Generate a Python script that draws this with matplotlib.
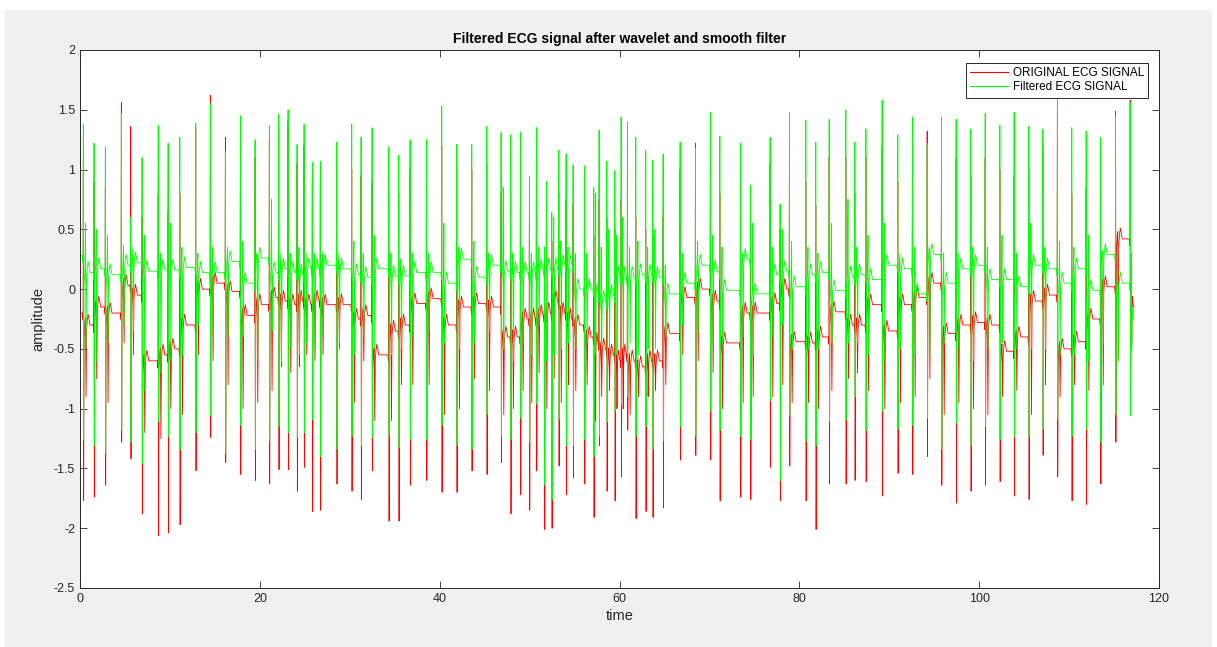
import matplotlib
matplotlib.use("Agg")
import matplotlib.pyplot as plt
from matplotlib.patches import Rectangle

# ---- data (one entry per heart beat) ----
beat_t = [0.37, 1.56, 2.82, 4.60, 5.64, 6.90, 8.70, 9.80, 11.10, 12.87, 14.50,
          16.17, 17.84, 19.47, 21.06, 22.10, 23.14, 24.14, 24.92, 25.84, 26.73, 28.55,
          30.22, 31.26, 32.48, 34.34, 35.45, 36.71, 38.53, 40.23, 41.90, 43.57,
          45.24, 46.83, 47.90, 48.98, 49.98, 50.76, 51.65, 52.47, 53.25, 54.06, 54.84, 56.10, 57.14, 57.73, 58.59, 59.48,
          60.18, 60.88, 61.81, 62.92, 63.70, 64.85, 66.74, 68.45, 70.11, 71.16, 73.45, 74.57,
          76.75, 77.86, 78.90, 80.72, 81.83, 83.32, 85.17, 86.17, 87.40, 89.21,
          90.95, 92.58, 94.22, 95.81, 97.44, 99.07, 100.67, 102.30, 103.89,
          105.52, 107.08, 108.70, 110.30, 111.90, 113.50, 115.17, 116.80]

grn_peak = [1.38, 1.22, 1.19, 1.47, 0.60, 1.10, 1.37, 1.22, 1.27, 1.39, 1.55,
            1.15, 1.45, 1.25, 1.37, 1.46, 1.50, 1.21, 1.38, 1.06, 1.07, 1.23,
            1.38, 1.27, 1.35, 1.19, 1.12, 1.25, 1.25, 1.53, 1.21, 1.21,
            1.36, 1.31, 1.29, 1.31, 0.94, 1.35, 0.35, 0.64, 1.16, 1.13, 1.04, 1.03, 0.85, 1.33, 1.07, 0.99,
            1.44, 1.40, 1.27, 1.16, 1.08, 1.13, 1.23, 1.18, 1.48, 1.28, 1.22, 0.87,
            1.27, 0.71, 1.48, 1.41, 1.23, 1.42, 1.50, 1.23, 1.34, 1.58,
            1.29, 1.44, 1.22, 1.44, 1.42, 1.34, 1.47, 1.37, 1.48,
            1.36, 1.34, 1.60, 1.35, 1.32, 1.27, 1.45, 1.56]

grn_trough = [-1.26, -1.31, -1.37, -1.18, -1.28, -1.46, -1.11, -1.23, -1.34, -1.20, -1.06,
              -1.37, -1.14, -1.34, -1.27, -1.15, -1.20, -1.24, -1.20, -1.09, -1.40, -1.34,
              -1.23, -1.31, -1.24, -1.23, -1.33, -1.26, -1.26, -1.14, -1.31, -1.34,
              -1.05, -1.23, -1.26, -1.08, -1.28, -0.96, -1.64, -1.76, -1.09, -1.31, -1.31, -1.26, -1.40, -1.23, -1.11, -1.02,
              -0.97, -0.90, -1.23, -1.15, -1.34, -1.27, -1.15, -1.23, -1.02, -1.18, -1.23, -1.26,
              -0.93, -1.60, -1.06, -1.27, -1.31, -1.11, -1.09, -0.90, -1.18, -1.02,
              -1.17, -1.14, -1.08, -1.34, -1.12, -1.31, -1.15, -1.26, -1.23,
              -1.23, -1.17, -1.09, -1.23, -1.17, -1.28, -1.05, -1.06]

grn_level = [0.14, 0.17, 0.12, 0.20, 0.22, 0.15, 0.16, 0.16, 0.18, 0.14, 0.14,
             0.23, 0.05, 0.26, 0.14, 0.17, 0.14, 0.12, 0.17, 0.17, 0.20, 0.17,
             0.12, 0.10, 0.17, 0.11, 0.11, 0.14, 0.14, 0.05, 0.25, 0.10,
             0.20, 0.15, 0.14, 0.14, 0.14, 0.16, 0.17, 0.17, 0.20, 0.20, 0.00, 0.00, -0.05, -0.10, -0.05, 0.10,
             0.10, 0.10, 0.12, 0.12, 0.10, -0.04, 0.05, 0.20, 0.15, -0.01, 0.25, -0.04,
             0.12, 0.15, 0.02, 0.12, 0.14, -0.01, 0.10, 0.12, 0.08, 0.20,
             0.17, -0.04, 0.29, 0.05, 0.17, 0.20, 0.08, 0.08, 0.02,
             0.20, 0.17, 0.05, 0.17, -0.01, 0.29, 0.05, -0.25]

grn_dip = [-0.50, -0.60, -0.45, -0.30, -0.35, -0.85, -0.70, -0.60, -0.55, -0.30, -0.35,
           -0.40, -0.40, -0.60, -0.35, -0.60, -0.50, -0.55, -0.45, -0.50, -0.40, -0.45,
           -0.55, -0.40, -0.50, -0.55, -0.50, -0.40, -0.35, -0.45, -0.50, -0.45,
           -0.35, -0.50, -0.60, -0.45, -0.55, -0.30, -0.60, -0.55, -0.50, -0.45, -0.50, -0.45, -0.55, -0.50, -0.50, -0.55,
           -0.50, -0.45, -0.55, -0.50, -0.50, -0.40, -0.30, -0.35, -0.45, -0.45, -0.40, -0.55,
           -0.40, -0.30, -0.50, -0.50, -0.50, -0.45, -0.45, -0.45, -0.55, -0.60,
           -0.50, -0.55, -0.55, -0.45, -0.50, -0.60, -0.50, -0.45, -0.50,
           -0.50, -0.50, -0.55, -0.55, -0.60, -0.45, -0.60, -0.50]

grn_spur = [0.55, 0.50, 0.45, 0.36, 0.35, 0.45, 0.30, 0.55, 0.35, 0.30, 0.35,
            0.35, 0.40, 0.30, 0.75, 0.30, 0.30, 0.35, 0.30, 0.30, 0.30, 0.30,
            0.40, 0.30, 0.45, 0.30, 0.25, 0.30, 0.30, 0.55, 0.35, 0.40,
            0.30, 0.85, 0.30, 0.35, 0.30, 0.35, 0.90, 0.60, 0.40, 0.35, 0.30, 0.30, 0.80, 0.35, 0.50, 0.45,
            0.60, 0.35, 0.40, 0.35, 0.50, 0.20, 0.30, 0.40, 0.45, 0.35, 0.30, 0.55,
            0.35, 0.50, 0.40, 0.35, 0.30, 0.55, 0.75, 0.35, 0.45, 0.55,
            0.30, 0.35, 0.35, 0.30, 0.30, 0.35, 0.35, 0.45, 0.30,
            0.55, 0.35, 0.40, 0.35, 0.45, 0.30, 0.35, 0.30]

red_peak = [1.00, 0.90, 0.85, 1.56, 1.36, 0.60, 0.80, 0.65, 0.80, 1.35, 1.62,
            1.27, 1.20, 1.10, 1.25, 1.35, 1.40, 1.05, 1.20, 0.90, 0.90, 1.05,
            1.00, 0.95, 0.90, 0.80, 0.80, 1.00, 1.10, 1.20, 1.00, 1.00,
            1.05, 0.80, 0.80, 0.90, 0.60, 1.00, 0.10, 0.40, 0.80, 0.75, 0.70, 0.60, 0.45, 0.75, 0.60, 0.50,
            0.75, 0.70, 0.60, 0.50, 0.45, 0.60, 1.00, 1.22, 1.25, 0.80, 0.95, 0.60,
            1.05, 0.50, 1.05, 0.90, 0.70, 1.10, 1.10, 0.80, 1.10, 1.20,
            0.90, 1.25, 1.32, 1.25, 1.10, 0.95, 1.10, 1.00, 0.95,
            1.00, 1.20, 1.50, 0.80, 0.85, 1.05, 1.49, 1.58]

red_trough = [-1.77, -1.74, -1.64, -1.28, -1.42, -1.88, -2.06, -2.04, -1.97, -1.52, -1.24,
              -1.45, -1.55, -1.60, -1.63, -1.51, -1.51, -1.69, -1.49, -1.86, -1.85, -1.63,
              -1.69, -1.76, -1.52, -1.94, -1.94, -1.64, -1.60, -1.70, -1.70, -1.52,
              -1.55, -1.45, -1.88, -1.72, -1.85, -1.52, -2.01, -2.00, -1.48, -1.72, -1.58, -1.63, -1.91, -1.31, -1.69, -1.77,
              -1.57, -1.18, -1.92, -1.86, -1.91, -1.83, -1.43, -1.39, -1.43, -1.77, -1.74, -1.76,
              -1.49, -1.77, -1.48, -1.77, -2.01, -1.63, -1.63, -1.60, -1.61, -1.73,
              -1.54, -1.55, -1.40, -1.64, -1.79, -1.69, -1.64, -1.61, -1.73,
              -1.76, -1.39, -1.57, -1.77, -1.80, -1.63, -1.28, -1.00]

red_level = [-0.30, -0.15, -0.20, 0.03, -0.05, -0.60, -0.55, -0.50, -0.30, 0.00, 0.05,
             -0.02, -0.22, -0.13, -0.07, -0.10, -0.13, -0.10, -0.13, -0.10, -0.13, -0.13,
             -0.25, -0.22, -0.55, -0.35, -0.30, -0.12, -0.08, -0.30, -0.15, -0.12,
             -0.15, -0.40, -0.40, -0.25, -0.25, -0.22, -0.20, -0.10, -0.20, -0.25, -0.30, -0.40, -0.45, -0.50, -0.55, -0.60,
             -0.55, -0.60, -0.65, -0.60, -0.60, -0.37, -0.07, 0.00, -0.10, -0.45, -0.20, -0.20,
             -0.12, 0.00, -0.44, -0.45, -0.40, -0.19, -0.30, -0.30, -0.13, -0.35,
             -0.13, -0.07, 0.05, -0.37, -0.30, -0.28, -0.30, -0.52, -0.40,
             -0.10, -0.05, -0.50, -0.44, -0.25, 0.02, 0.42, -0.15]

red_dip = [-0.90, -0.75, -0.95, -0.45, -0.55, -1.20, -1.25, -1.00, -1.05, -0.55, -0.60,
           -0.80, -1.00, -0.95, -0.85, -0.65, -0.70, -0.65, -0.55, -0.60, -0.55, -0.50,
           -0.95, -0.60, -1.10, -1.10, -0.80, -0.80, -0.80, -1.05, -1.00, -0.75,
           -0.85, -1.05, -1.00, -0.85, -0.95, -0.70, -1.00, -0.75, -0.95, -0.80, -0.85, -0.80, -1.10, -0.90, -0.85, -1.00,
           -1.00, -1.05, -0.90, -0.90, -0.85, -0.80, -0.55, -0.60, -0.70, -1.00, -0.95, -0.90,
           -0.90, -0.80, -0.95, -0.95, -1.00, -0.85, -0.75, -0.70, -0.85, -1.00,
           -0.95, -0.90, -0.75, -1.05, -0.95, -1.00, -1.05, -0.90, -0.85,
           -1.05, -0.80, -0.90, -0.80, -0.85, -0.80, -0.60, -0.45]

red_start, red_end = -0.20, -0.15
grn_start, grn_end = 0.28, -0.25
t_end = 117.25


def build(start, end, peaks, troughs, levels, dips, spurs):
    xs, ys = [0.0], [start]
    prev = start
    n = len(beat_t)
    for i in range(n):
        t = beat_t[i]
        nxt = beat_t[i + 1] if i + 1 < n else t_end
        d = nxt - t
        lv = levels[i]
        xs += [t - 0.10, t - 0.03, t, t + 0.035, t + 0.08]
        ys += [prev, prev - 0.06, peaks[i], troughs[i], lv - 0.12]
        k = min(1.0, max(0.1, (d - 0.15) / 0.75))
        offs = [0.10, 0.16, 0.22, 0.28, 0.36, 0.45, 0.55, 0.66]
        vals = [lv + 0.03, spurs[i], dips[i], lv - 0.04, lv + 0.04,
                lv + 0.09, lv + 0.05, lv]
        for o, v in zip(offs, vals):
            xs.append(t + 0.08 + o * k)
            ys.append(v)
        prev = lv
    xs.append(t_end)
    ys.append(end)
    return xs, ys


red_spur = [lv + 0.06 for lv in red_level]
rx, ry = build(red_start, red_end, red_peak, red_trough, red_level, red_dip, red_spur)
gx, gy = build(grn_start, grn_end, grn_peak, grn_trough, grn_level, grn_dip, grn_spur)

plt.rcParams['font.family'] = ['Liberation Sans', 'DejaVu Sans']
fig = plt.figure(figsize=(12.17, 6.47), dpi=100, facecolor='white')
fig.patches.append(Rectangle((0.004, 0.0), 0.992, 0.985, transform=fig.transFigure,
                             facecolor='#f0f0f0', edgecolor='none', zorder=-10))
ax = fig.add_axes([80 / 1217, 1 - 588 / 647, (1159 - 80) / 1217, (588 - 50) / 647])
ax.plot(rx, ry, color='#ff0000', lw=0.6, label='ORIGINAL ECG SIGNAL')
ax.plot(gx, gy, color='#00ff00', lw=0.6, label='Filtered ECG SIGNAL')

ax.set_xlim(0, 120)
ax.set_ylim(-2.5, 2)
ax.set_xticks(range(0, 121, 20))
ax.set_yticks([-2.5, -2, -1.5, -1, -0.5, 0, 0.5, 1, 1.5, 2])
ax.set_yticklabels(['-2.5', '-2', '-1.5', '-1', '-0.5', '0', '0.5', '1', '1.5', '2'])
ax.tick_params(direction='in', top=True, right=True, length=5, width=0.6,
               labelsize=9, colors='#262626')
for s in ax.spines.values():
    s.set_color('#262626')
    s.set_linewidth(0.7)
ax.set_facecolor('white')
ax.set_title('Filtered ECG signal after wavelet and smooth filter', fontsize=10,
             fontweight='bold', color='black', pad=5)
ax.set_xlabel('time', fontsize=10.5, color='#262626', labelpad=3)
ax.set_ylabel('amplitude', fontsize=10.5, color='#262626', labelpad=6)
leg = ax.legend(loc='upper right', fontsize=8.5, frameon=True, fancybox=False,
                edgecolor='#262626', framealpha=1, handlelength=3.2, handletextpad=0.4,
                borderpad=0.35, labelspacing=0.2, bbox_to_anchor=(0.9955, 0.987))
leg.get_frame().set_linewidth(0.7)
for line in leg.get_lines():
    line.set_linewidth(0.8)

fig.savefig('out.png', dpi=100, facecolor=fig.get_facecolor())
